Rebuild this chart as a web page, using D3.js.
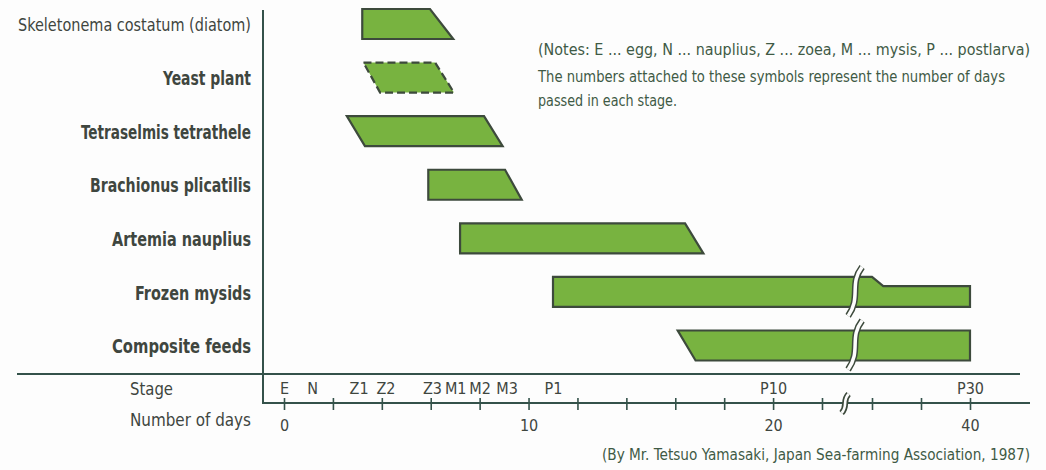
<!DOCTYPE html>
<html><head><meta charset="utf-8">
<script src="https://cdn.jsdelivr.net/npm/d3@7"></script>
<style>body{margin:0;background:#fff}svg{display:block}</style>
</head><body><svg id="c" width="1046" height="470"></svg>
<script>
// ---- data ----
const feeds = ["Skeletonema costatum (diatom)","Yeast plant","Tetraselmis tetrathele","Brachionus plicatilis","Artemia nauplius","Frozen mysids","Composite feeds"];
const startTop    = [3.2, 3.25, 2.57, 5.9, 7.2, 11.0, 16.1];
const startBottom = [3.2, 3.93, 3.31, 5.9, 7.2, 11.0, 16.83];
const endTop      = [5.97, 6.18, 8.18, 9.04, 16.4, 40, 40];
const endBottom   = [6.92, 6.95, 8.94, 9.72, 17.15, 40, 40];
const tentative   = [false, true, false, false, false, false, false];
const boldLabel   = [false, true, true, true, true, true, true];
const narrowedFeed = "Frozen mysids";
const narrowStart = 30, narrowEnd = 31.15, narrowShare = 0.31;
const brokenFeeds = ["Frozen mysids", "Composite feeds"];
const barBreakDay = 27.3;
const stageLabels = ["E","N","Z1","Z2","Z3","M1","M2","M3","P1","P10","P30"];
const stageDays   = [0, 1.15, 3.05, 4.15, 6.05, 7, 8, 9.1, 11, 20, 40];
const dayTicks = [0,2,4,6,8,10,12,14,16,18,20,22,30,35,40];
const dayTickLabels = [0,10,20,40];
const axisBreakDay = 25.7;
const notes = ["(Notes: E ... egg, N ... nauplius, Z ... zoea, M ... mysis, P ... postlarva)",
  "The numbers attached to these symbols represent the number of days",
  "passed in each stage."];
const source = "(By Mr. Tetsuo Yamasaki, Japan Sea-farming Association, 1987)";

// ---- style ----
const FONT = "'Liberation Sans Narrow','Arial Narrow','DejaVu Sans Condensed',Roboto,sans-serif";
const FILL = "#78b340", EDGE = "#3d4a3c", TXT = "#3f463f", AX = "#34524a", NOTE = "#3f5a45";

const svg = d3.select("#c");
svg.append("rect").attr("width",1046).attr("height",470).attr("fill","#fdfdfd");

const x = d3.scaleLinear().domain([0,22,30,40]).range([284,822,872,970]);
const y = d3.scaleBand().domain(feeds).range([9,360.5]).paddingInner(0.44).paddingOuter(0);
const bw = y.bandwidth();

// frame lines
svg.append("line").attr("x1",17).attr("x2",1020).attr("y1",374).attr("y2",374).attr("stroke",AX).attr("stroke-width",2);
svg.append("path").attr("d","M263,10 V403 H1030").attr("fill","none").attr("stroke",AX).attr("stroke-width",2);

// bars
feeds.forEach((f,i)=>{
  const y0 = y(f), y1 = y0 + bw;
  let pts;
  if (f === narrowedFeed) {
    const yn = y0 + narrowShare*bw;
    pts = [[x(startTop[i]),y0],[x(narrowStart),y0],[x(narrowEnd),yn],[x(endTop[i]),yn],[x(endBottom[i]),y1],[x(startBottom[i]),y1]];
  } else {
    pts = [[x(startTop[i]),y0],[x(endTop[i]),y0],[x(endBottom[i]),y1],[x(startBottom[i]),y1]];
  }
  svg.append("path").attr("d", d3.line()(pts)+"Z")
    .attr("fill", FILL).attr("stroke", EDGE).attr("stroke-width", 2.2)
    .attr("stroke-linejoin","miter")
    .attr("stroke-dasharray", tentative[i] ? "8,4" : null);
});

function sBreak(g, xc, top, bot, dx, dark, light){
  const p = d3.path();
  const h = bot-top;
  p.moveTo(xc+dx, top);
  p.bezierCurveTo(xc-dx*0.9, top+h*0.35, xc+dx*0.9, top+h*0.62, xc-dx, bot);
  g.append("path").attr("d",p.toString()).attr("fill","none").attr("stroke",EDGE).attr("stroke-width",dark);
  g.append("path").attr("d",p.toString()).attr("fill","none").attr("stroke","#fdfdfd").attr("stroke-width",light);
}
brokenFeeds.forEach(f=>{
  const y0 = y(f);
  sBreak(svg, x(barBreakDay), y0-10, y0+bw+9, 7, 6.5, 3.5);
});

// day axis
const ax = svg.append("g").attr("transform","translate(0,403)")
  .call(d3.axisBottom(x).tickValues(dayTicks).tickSize(7).tickPadding(10)
    .tickFormat(d => dayTickLabels.includes(d) ? d : ""));
ax.select(".domain").remove();
ax.selectAll(".tick line").attr("y1",-5).attr("stroke",AX).attr("stroke-width",1.6);
ax.selectAll(".tick text").attr("font-family",FONT).attr("font-size",16).attr("fill",TXT);
sBreak(svg, x(axisBreakDay), 394, 413, 3.5, 6, 2.6);

// stage axis
const sx = d3.scaleOrdinal().domain(stageLabels).range(stageDays.map(x));
const st = svg.append("g").attr("transform","translate(0,403)")
  .call(d3.axisTop(sx).tickSize(0).tickPadding(9));
st.select(".domain").remove();
st.selectAll(".tick text").attr("font-family",FONT).attr("font-size",16).attr("fill",TXT);

// feed labels
const labLen = [233,88,170,161,139,116,139];
feeds.forEach((f,i)=>{
  svg.append("text").attr("x",251).attr("y",y(f)+bw/2+1).attr("dy","0.35em")
    .attr("text-anchor","end").attr("font-family",FONT)
    .attr("font-size", boldLabel[i]?19:18).attr("font-weight", boldLabel[i]?"bold":"normal")
    .attr("fill",TXT).attr("textLength",labLen[i]).attr("lengthAdjust","spacingAndGlyphs").text(f);
});
svg.append("text").attr("x",130).attr("y",389).attr("dy","0.35em").attr("font-family",FONT).attr("font-size",17)
  .attr("fill",TXT).attr("textLength",43).attr("lengthAdjust","spacingAndGlyphs").text("Stage");
svg.append("text").attr("x",130).attr("y",420).attr("dy","0.35em").attr("font-family",FONT).attr("font-size",17)
  .attr("fill",TXT).attr("textLength",121).attr("lengthAdjust","spacingAndGlyphs").text("Number of days");

// notes
const noteY = [50,77,101], noteLen = [492,467,139];
notes.forEach((t,i)=>{
  svg.append("text").attr("x",538).attr("y",noteY[i]).attr("dy","0.35em").attr("font-family",FONT).attr("font-size",15)
    .attr("fill",NOTE).attr("textLength",noteLen[i]).attr("lengthAdjust","spacingAndGlyphs").text(t);
});
svg.append("text").attr("x",602).attr("y",455).attr("dy","0.35em").attr("font-family",FONT).attr("font-size",15)
  .attr("fill",NOTE).attr("textLength",428).attr("lengthAdjust","spacingAndGlyphs").text(source);
</script></body></html>
